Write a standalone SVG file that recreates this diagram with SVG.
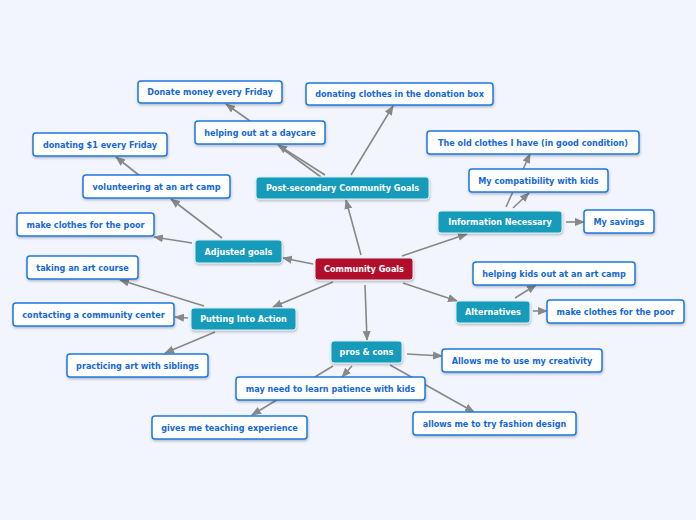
<svg xmlns="http://www.w3.org/2000/svg" width="696" height="520" viewBox="0 0 696 520">
<defs>
<marker id="ah" markerWidth="10" markerHeight="10" refX="9" refY="5" orient="auto" markerUnits="userSpaceOnUse">
<path d="M0,1 L10,5 L0,9 Z" fill="#888"/>
</marker>
<filter id="sh" x="-10%" y="-20%" width="120%" height="150%">
<feDropShadow dx="0.5" dy="1.5" stdDeviation="0.8" flood-color="#000" flood-opacity="0.25"/>
</filter>
</defs>
<style>
.e{stroke:#888;stroke-width:1.6;fill:none}
.a{marker-end:url(#ah)}
.w rect{fill:#fff;stroke:#1e78e0;stroke-width:1.5;filter:url(#sh)}
.w text{fill:#1468d6}
.t rect{fill:#179bbb;stroke:#d8eef5;stroke-width:1;filter:url(#sh)}
.t text{fill:#fff}
.r rect{fill:#b20c2b;stroke:#d8eef5;stroke-width:1;filter:url(#sh)}
.r text{fill:#fff}
text{font-family:"DejaVu Sans",Verdana,sans-serif;font-weight:bold;font-size:8.1px;text-anchor:middle;dominant-baseline:central}
</style>
<rect width="696" height="520" fill="#f2f5fd"/>
<g id="connectors">
<line class="e a" x1="361" y1="255" x2="346" y2="200"/>
<line class="e a" x1="402" y1="256" x2="467" y2="234"/>
<line class="e a" x1="403" y1="283" x2="457" y2="301"/>
<line class="e a" x1="365" y1="285" x2="367" y2="340"/>
<line class="e a" x1="313" y1="264" x2="283" y2="258"/>
<line class="e a" x1="333" y1="282" x2="273" y2="307"/>
<line class="e a" x1="325" y1="175" x2="278" y2="145"/>
<line class="e" x1="321" y1="177" x2="280" y2="147"/>
<line class="e a" x1="351" y1="175" x2="393" y2="106"/>
<line class="e a" x1="250" y1="121" x2="226" y2="104"/>
<line class="e a" x1="222" y1="238" x2="171" y2="199"/>
<line class="e a" x1="192" y1="243" x2="154" y2="237"/>
<line class="e a" x1="140" y1="176" x2="116" y2="157"/>
<line class="e a" x1="204" y1="306" x2="120" y2="280"/>
<line class="e a" x1="188" y1="318" x2="175" y2="317"/>
<line class="e a" x1="215" y1="332" x2="165" y2="353"/>
<line class="e a" x1="566" y1="222" x2="584" y2="222"/>
<line class="e a" x1="506" y1="207" x2="530" y2="154"/>
<line class="e a" x1="513" y1="208" x2="529" y2="193"/>
<line class="e a" x1="515" y1="298" x2="536" y2="285"/>
<line class="e a" x1="533" y1="311" x2="547" y2="311"/>
<line class="e a" x1="407" y1="354" x2="442" y2="356"/>
<line class="e a" x1="333" y1="366" x2="252" y2="415"/>
<line class="e a" x1="352" y1="366" x2="342" y2="377"/>
<line class="e a" x1="390" y1="365" x2="474" y2="412"/>
</g>
<g id="n-community-goals" class="r"><rect x="315" y="258" width="98" height="22" rx="3"/><text x="364" y="269">Community Goals</text></g>
<g id="n-post-secondary" class="t"><rect x="256" y="177" width="173" height="22" rx="3"/><text x="342.5" y="188">Post-secondary Community Goals</text></g>
<g id="n-donate-money" class="w"><rect x="138" y="81" width="144" height="22" rx="3"/><text x="210" y="92">Donate money every Friday</text></g>
<g id="n-donating-clothes" class="w"><rect x="306" y="83" width="187" height="22" rx="3"/><text x="399.5" y="94">donating clothes in the donation box</text></g>
<g id="n-daycare" class="w"><rect x="195" y="121" width="130" height="23" rx="3"/><text x="260" y="132.5">helping out at a daycare</text></g>
<g id="n-donating-1" class="w"><rect x="33" y="133" width="134" height="23" rx="3"/><text x="100" y="144.5">donating $1 every Friday</text></g>
<g id="n-volunteering" class="w"><rect x="83" y="175" width="147" height="23" rx="3"/><text x="156.5" y="186.5">volunteering at an art camp</text></g>
<g id="n-make-clothes-left" class="w"><rect x="17" y="213" width="137" height="23" rx="3"/><text x="85.5" y="224.5">make clothes for the poor</text></g>
<g id="n-adjusted" class="t"><rect x="195" y="240" width="87" height="23" rx="3"/><text x="238.5" y="251.5">Adjusted goals</text></g>
<g id="n-art-course" class="w"><rect x="27" y="256" width="111" height="23" rx="3"/><text x="82.5" y="267.5">taking an art course</text></g>
<g id="n-contacting" class="w"><rect x="13" y="303" width="161" height="23" rx="3"/><text x="93.5" y="314.5">contacting a community center</text></g>
<g id="n-putting" class="t"><rect x="191" y="308" width="105" height="22" rx="3"/><text x="243.5" y="319">Putting Into Action</text></g>
<g id="n-practicing" class="w"><rect x="67" y="354" width="141" height="23" rx="3"/><text x="137.5" y="365.5">practicing art with siblings</text></g>
<g id="n-pros-cons" class="t"><rect x="331" y="341" width="71" height="22" rx="3"/><text x="366.5" y="352">pros &amp; cons</text></g>
<g id="n-patience" class="w"><rect x="236" y="377" width="189" height="23" rx="3"/><text x="330.5" y="388.5">may need to learn patience with kids</text></g>
<g id="n-teaching" class="w"><rect x="152" y="416" width="155" height="23" rx="3"/><text x="229.5" y="427.5">gives me teaching experience</text></g>
<g id="n-fashion" class="w"><rect x="413" y="412" width="163" height="23" rx="3"/><text x="494.5" y="423.5">allows me to try fashion design</text></g>
<g id="n-creativity" class="w"><rect x="442" y="349" width="160" height="23" rx="3"/><text x="522" y="360.5">Allows me to use my creativity</text></g>
<g id="n-info" class="t"><rect x="438" y="211" width="124" height="22" rx="3"/><text x="500" y="222">Information Necessary</text></g>
<g id="n-savings" class="w"><rect x="584" y="210" width="70" height="23" rx="3"/><text x="619" y="221.5">My savings</text></g>
<g id="n-old-clothes" class="w"><rect x="427" y="131" width="212" height="23" rx="3"/><text x="533" y="142.5">The old clothes I have (in good condition)</text></g>
<g id="n-compat" class="w"><rect x="469" y="169" width="139" height="23" rx="3"/><text x="538.5" y="180.5">My compatibility with kids</text></g>
<g id="n-helping-kids" class="w"><rect x="473" y="262" width="162" height="23" rx="3"/><text x="554" y="273.5">helping kids out at an art camp</text></g>
<g id="n-alternatives" class="t"><rect x="456" y="301" width="74" height="22" rx="3"/><text x="493" y="312">Alternatives</text></g>
<g id="n-make-clothes-right" class="w"><rect x="547" y="300" width="137" height="23" rx="3"/><text x="615.5" y="311.5">make clothes for the poor</text></g>
</svg>
